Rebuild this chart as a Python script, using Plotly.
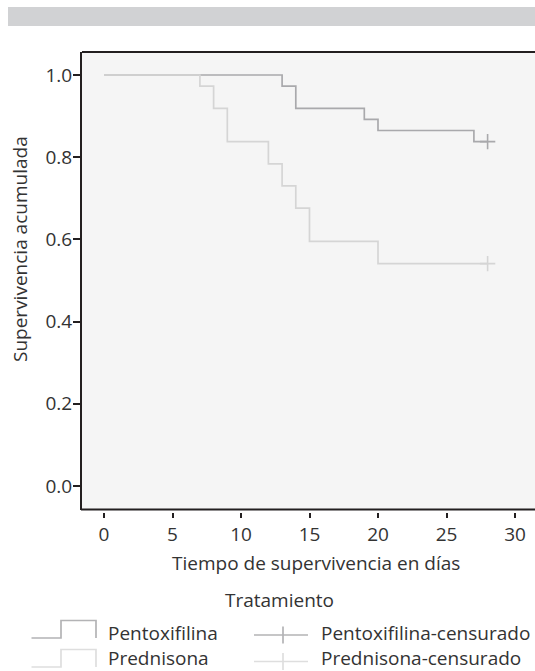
import plotly.graph_objects as go

# ---- data ----
pent_t = [0, 13, 14, 19, 20, 27, 28]
pent_s = [1.0, 0.973, 0.919, 0.892, 0.865, 0.838, 0.838]
pred_t = [0, 7, 8, 9, 12, 13, 14, 15, 20, 28]
pred_s = [1.0, 0.973, 0.919, 0.838, 0.784, 0.730, 0.676, 0.595, 0.541, 0.541]
pent_cens_t = [28]
pent_cens_s = [0.838]
pred_cens_t = [28]
pred_cens_s = [0.541]
x_ticks = [0, 5, 10, 15, 20, 25, 30]
y_ticks = [0.0, 0.2, 0.4, 0.6, 0.8, 1.0]
y_ticklabels = ["0.0", "0.2", "0.4", "0.6", "0.8", "1.0"]
legend_labels = ["Pentoxifilina", "Prednisona", "Pentoxifilina-censurado", "Prednisona-censurado"]

W, H = 535, 671
ML, MR, MT, MB = 82, 0, 52, 159
PW = W - ML - MR
PH = H - MT - MB
FONT = "Open Sans"
FS = 19
TXT = "#333333"
C_PENT = "#a9a9ac"
C_PRED = "#d5d5d5"
C_PENT_LEG = "#b3b3b5"
C_PRED_LEG = "#dedede"


def px(xp):
    return (xp - ML) / PW


def py(yp):
    return (MT + PH - yp) / PH


fig = go.Figure()
fig.add_trace(go.Scatter(x=pent_t, y=pent_s, mode="lines", line=dict(shape="hv", color=C_PENT, width=1.7),
                         name=legend_labels[0], showlegend=False, hoverinfo="skip"))
fig.add_trace(go.Scatter(x=pred_t, y=pred_s, mode="lines", line=dict(shape="hv", color=C_PRED, width=1.7),
                         name=legend_labels[1], showlegend=False, hoverinfo="skip"))
fig.add_trace(go.Scatter(x=pent_cens_t, y=pent_cens_s, mode="markers",
                         marker=dict(symbol="cross-thin", size=11, line=dict(color=C_PENT, width=1.6)),
                         name=legend_labels[2], showlegend=False, hoverinfo="skip"))
fig.add_trace(go.Scatter(x=pred_cens_t, y=pred_cens_s, mode="markers",
                         marker=dict(symbol="cross-thin", size=11, line=dict(color=C_PRED, width=1.6)),
                         name=legend_labels[3], showlegend=False, hoverinfo="skip"))

gap = 2.5
shapes = []
# top grey band
shapes.append(dict(type="rect", xref="paper", yref="paper", x0=px(8), x1=px(535), y0=py(26), y1=py(7),
                   fillcolor="#d1d2d4", line=dict(width=0), layer="below"))
# frame top and bottom
shapes.append(dict(type="line", xref="paper", yref="paper", x0=0, x1=1, y0=1, y1=1,
                   line=dict(color="#231f20", width=2)))
shapes.append(dict(type="line", xref="paper", yref="paper", x0=px(81), x1=1, y0=gap / PH, y1=gap / PH,
                   line=dict(color="#231f20", width=2)))


def path(points):
    s = "M %f %f" % (px(points[0][0]), py(points[0][1]))
    for a, b in points[1:]:
        s += " L %f %f" % (px(a), py(b))
    return s


# legend symbols
shapes.append(dict(type="path", xref="paper", yref="paper",
                   path=path([(31.5, 638), (61, 638), (61, 620.5), (96, 620.5), (96, 638)]),
                   line=dict(color=C_PENT_LEG, width=1.7)))
shapes.append(dict(type="path", xref="paper", yref="paper",
                   path=path([(31.5, 667), (61, 667), (61, 649.5), (96, 649.5), (96, 667)]),
                   line=dict(color=C_PRED_LEG, width=1.7)))
for yc, col in [(635, C_PENT_LEG), (661.5, C_PRED_LEG)]:
    shapes.append(dict(type="line", xref="paper", yref="paper", x0=px(254), x1=px(308), y0=py(yc), y1=py(yc),
                       line=dict(color=col, width=1.7)))
    shapes.append(dict(type="line", xref="paper", yref="paper", x0=px(283), x1=px(283), y0=py(yc - 8.5),
                       y1=py(yc + 8.5), line=dict(color=col, width=1.7)))

annotations = []


def ann(text, x, y, xanchor="left", angle=0, size=FS):
    annotations.append(dict(text=text, xref="paper", yref="paper", x=px(x), y=py(y), xanchor=xanchor,
                            yanchor="middle", showarrow=False, textangle=angle, align="left",
                            font=dict(family=FONT, size=size, color=TXT)))


ann("Tiempo de supervivencia en días", 316, 563, xanchor="center")
ann("Supervivencia acumulada", 20, 249, xanchor="center", angle=-90)
ann("Tratamiento", 279, 600, xanchor="center")
ann(legend_labels[0] + "<br>" + legend_labels[1], 106, 645.5)
ann(legend_labels[2] + "<br>" + legend_labels[3], 319, 645.5)

x0_px, x_ppd = 104, 13.7
y0_px, y_ppu = 486, 411
xr = [(ML - x0_px) / x_ppd, (W - MR - x0_px) / x_ppd]
yr = [-(MT + PH - gap - y0_px) / y_ppu, (y0_px - MT) / y_ppu]

fig.update_layout(
    width=W, height=H, margin=dict(l=ML, r=MR, t=MT, b=MB),
    paper_bgcolor="white", plot_bgcolor="#f5f5f5",
    showlegend=False, shapes=shapes, annotations=annotations,
    font=dict(family=FONT, size=FS, color=TXT),
    xaxis=dict(range=xr, tickvals=x_ticks, ticks="outside", ticklen=5, tickwidth=2, tickcolor="#231f20",
               showline=False, showgrid=False, zeroline=False, anchor="free", position=0,
               tickfont=dict(family=FONT, size=FS, color=TXT)),
    yaxis=dict(range=yr, domain=[gap / PH, 1], tickvals=y_ticks, ticktext=y_ticklabels, ticks="outside",
               ticklen=7, tickwidth=2, tickcolor="#231f20", showline=True, linecolor="#231f20", linewidth=2,
               ticklabelstandoff=-3,
               showgrid=False, zeroline=False, tickfont=dict(family=FONT, size=FS, color=TXT)),
)

fig.write_html("out.html", config={"displayModeBar": False},
               post_script="document.body.style.margin='0';document.body.style.overflow='hidden';")
